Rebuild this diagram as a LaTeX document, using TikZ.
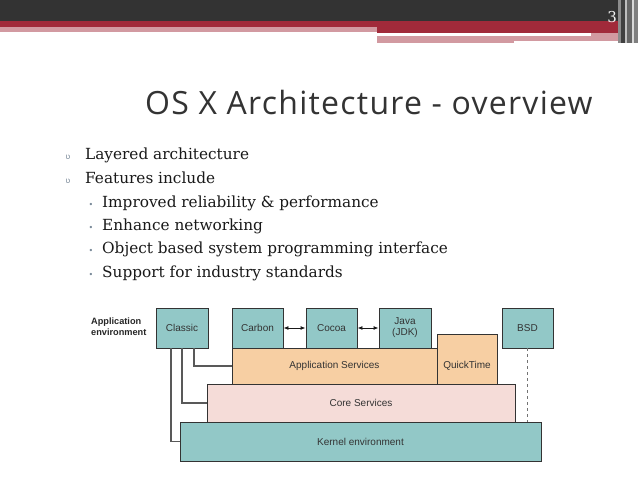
\documentclass[tikz,border=0pt]{standalone}
\usepackage{fontspec}
\setmainfont{DejaVu Serif}
\newfontfamily\titlefont[LetterSpace=4]{Open Sans}
\newfontfamily\boxfont{Liberation Sans}
\newfontfamily\symfont{DejaVu Sans}
\usetikzlibrary{arrows.meta}

\definecolor{hdrdark}{HTML}{333333}
\definecolor{hdrred}{HTML}{A12A3A}
\definecolor{hdrpink}{HTML}{D29AA1}
\definecolor{layerteal}{HTML}{92C8C7}
\definecolor{layerpeach}{HTML}{F7CFA3}
\definecolor{layerpink}{HTML}{F5DCD8}
\definecolor{bulletgray}{HTML}{7A8A99}

\tikzset{
  layer/.style={draw=black!80, line width=0.9pt, inner sep=0pt, text=black!80,
    font=\boxfont\fontsize{10}{11}\selectfont,
    preaction={fill=black!55, transform canvas={xshift=1pt,yshift=-1pt}}},
  tealbox/.style={layer, fill=layerteal, minimum width=51pt, minimum height=40pt},
  bodyline/.style={anchor=base west, inner sep=0pt, text=black!90,
    font=\fontsize{15.3}{18}\selectfont},
  bulletone/.style={anchor=base, inner sep=0pt, text=bulletgray,
    font=\symfont\fontsize{8}{8}\selectfont},
  bullettwo/.style={anchor=base, inner sep=0pt, text=bulletgray,
    font=\symfont\fontsize{8}{8}\selectfont},
  link/.style={draw=black!65, line width=1.1pt},
  dblarrow/.style={{Latex[length=5pt,width=4pt]}-{Latex[length=5pt,width=4pt]}, line width=0.9pt, black!90}
}

\begin{document}
\begin{tikzpicture}[x=1pt,y=-1pt]
                \useasboundingbox (0,0) rectangle (638,479);
                \fill[white] (0,0) rectangle (638,479);
                \fill[hdrdark] (0,0) rectangle (638,21);
                \fill[hdrred] (0,21) rectangle (377,27);
                \fill[hdrpink] (0,27) rectangle (377,32);
                \fill[hdrred] (377,21) rectangle (638,33);
                \fill[hdrpink] (591,33) rectangle (638,36);
                \fill[hdrpink] (377,36) rectangle (625,43);
                \fill[white] (514,41) rectangle (625,43);
                \fill[black!45] (618,0) rectangle (621,43);
                \fill[black!75] (621,0) rectangle (625,43);
                \fill[black!25] (625,0) rectangle (627,43);
                \fill[black!60] (627,0) rectangle (632,43);
                \fill[black!15] (632,0) rectangle (634,43);
                \fill[black!50] (634,0) rectangle (638,43);
                \node[anchor=base east, inner sep=0pt, text=black!5, font=\fontsize{15}{15}\selectfont] (pagenum) at (617,22) {3};

                \node[anchor=base west, inner sep=0pt, text=black!80, font=\titlefont\fontsize{32}{32}\selectfont] (title) at (145,114) {OS X Architecture - overview};

                \node[bulletone] (b1) at (68,159) {ʋ};
                \node[bulletone] (b2) at (68,183) {ʋ};
                \node[bullettwo] (b3) at (91,207) {•};
                \node[bullettwo] (b4) at (91,230) {•};
                \node[bullettwo] (b5) at (91,253) {•};
                \node[bullettwo] (b6) at (91,277) {•};
                \node[bodyline] (l1) at (85,159) {Layered architecture};
                \node[bodyline] (l2) at (85,183) {Features include};
                \node[bodyline] (l3) at (102,207) {Improved reliability \& performance};
                \node[bodyline] (l4) at (102,230) {Enhance networking};
                \node[bodyline] (l5) at (102,253) {Object based system programming interface};
                \node[bodyline] (l6) at (102,277) {Support for industry standards};

                \node[layer, fill=layerteal, minimum width=361pt, minimum height=39pt] (kernel) at (360.5,441.5) {Kernel environment};
                \node[layer, fill=layerpink, minimum width=308pt, minimum height=38pt] (coresvc) at (361,403) {Core Services};
                \node[layer, fill=layerpeach, minimum width=205pt, minimum height=36pt] (appsvc) at (334.5,366) {Application Services};
                \node[layer, fill=layerpeach, minimum width=60pt, minimum height=50pt, text height=21pt] (quicktime) at (467,359) {QuickTime};
                \node[tealbox, minimum width=52pt] (classic) at (182,328) {Classic};
                \node[tealbox] (carbon) at (257.5,328) {Carbon};
                \node[tealbox] (cocoa) at (331.5,328) {Cocoa};
                \node[tealbox, minimum width=52pt, align=center] (java) at (405,328) {Java\\(JDK)};
                \node[tealbox] (bsd) at (527.5,328) {BSD};
                \node[anchor=north west, align=left, inner sep=0pt, text=black!85, font=\boxfont\bfseries\fontsize{9.2}{11}\selectfont] (appenv) at (91,318) {Application\\environment};

                \draw[link] ([xshift=12pt]classic.south) |- (appsvc.west);
                \draw[link] (classic.south) |- (coresvc.west);
                \draw[link] ([xshift=-11pt]classic.south) |- (kernel.west);
                \draw[dblarrow] (carbon.east) -- (cocoa.west);
                \draw[dblarrow] (cocoa.east) -- (java.west);
                \draw[black!55, line width=1pt, dashed] (bsd.south) -- (bsd.south |- kernel.north);
            \end{tikzpicture}
\end{document}
